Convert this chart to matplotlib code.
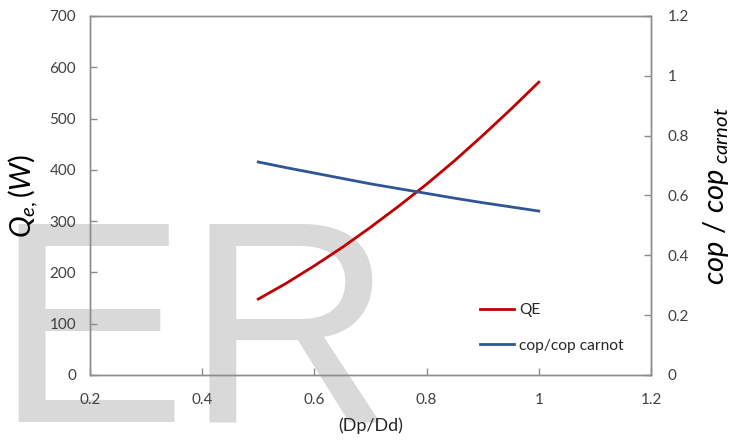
import matplotlib
matplotlib.use("Agg")
import matplotlib.pyplot as plt

# ------------------------------
# Data
# ------------------------------
dp_dd = [0.5, 0.55, 0.6, 0.65, 0.7, 0.75, 0.8, 0.85, 0.9, 0.95, 1.0]
qe = [148, 179, 213, 249, 288, 329, 372, 418, 467, 518, 571]
cop_ratio = [0.712, 0.693, 0.675, 0.657, 0.639, 0.623, 0.607, 0.591, 0.576, 0.562, 0.548]

x_ticks = [0.2, 0.4, 0.6, 0.8, 1.0, 1.2]
x_tick_labels = ["0.2", "0.4", "0.6", "0.8", "1", "1.2"]
qe_ticks = [0, 100, 200, 300, 400, 500, 600, 700]
cop_ticks = [0, 0.2, 0.4, 0.6, 0.8, 1.0, 1.2]
cop_tick_labels = ["0", "0.2", "0.4", "0.6", "0.8", "1", "1.2"]

# ------------------------------
# Style
# ------------------------------
plt.rcParams['font.family'] = ['Lato', 'DejaVu Sans']
plt.rcParams['mathtext.fontset'] = 'custom'
plt.rcParams['mathtext.rm'] = 'Lato'
plt.rcParams['mathtext.it'] = 'Lato:italic'

W, H = 748, 442
spine_col = '#8c8c8c'
text_col = '#404040'
red = '#c00000'
blue = '#2f5597'

fig = plt.figure(figsize=(W/100, H/100), dpi=100)
# plot area in pixels: x 90..651, y 16..375 (from top)
ax = fig.add_axes([90/W, 1 - 375/H, 561/W, 359/H])
ax2 = ax.twinx()
ax.set_facecolor('none')

# big grey lettering behind the plot
fig.text(-5.7/W, (H - 422)/H, "ER", family='Liberation Sans', fontsize=207,
         color='#d9d9d9', ha='left', va='baseline', zorder=-1)

ax.plot(dp_dd, qe, color=red, lw=2, label='QE')
ax2.plot(dp_dd, cop_ratio, color=blue, lw=2, label='cop/cop carnot')

ax.set_xlim(0.2, 1.2)
ax.set_ylim(0, 700)
ax2.set_ylim(0, 1.2)

ax.set_xticks(x_ticks)
ax.set_xticklabels(x_tick_labels)
ax.set_yticks(qe_ticks)
ax2.set_yticks(cop_ticks)
ax2.set_yticklabels(cop_tick_labels)

for a in (ax, ax2):
    for s in a.spines.values():
        s.set_color(spine_col)
        s.set_linewidth(1)
    a.tick_params(direction='in', length=5, width=1, color=spine_col,
                  labelcolor=text_col, labelsize=11)
ax.tick_params(axis='y', pad=10)
ax.tick_params(axis='x', pad=13)
ax2.tick_params(axis='y', pad=12)

ax.set_xlabel("(Dp/Dd)", fontsize=13, color='#262626')
ax.xaxis.set_label_coords(0.5, -(417 - 375)/359)
ax.set_ylabel(r"$Q_{e,}(W)$", fontsize=21, color='black')
ax.yaxis.set_label_coords(-(90 - 40)/561, 0.5)
ax2.set_ylabel(r"$cop\ /\ cop_{\ carnot}$", fontsize=21, color='black',
               rotation=90)
ax2.yaxis.set_label_coords(1 + (701 - 651)/561, 0.5)

h1, l1 = ax.get_legend_handles_labels()
h2, l2 = ax2.get_legend_handles_labels()
ax.legend(h1 + h2, l1 + l2, frameon=False, fontsize=11.2, handlelength=2.2,
          handletextpad=0.3, labelspacing=1.4,
          loc='upper left', bbox_to_anchor=((466 - 90)/561, (375 - 289)/359),
          labelcolor='#262626')

fig.savefig("out.png", dpi=100)
